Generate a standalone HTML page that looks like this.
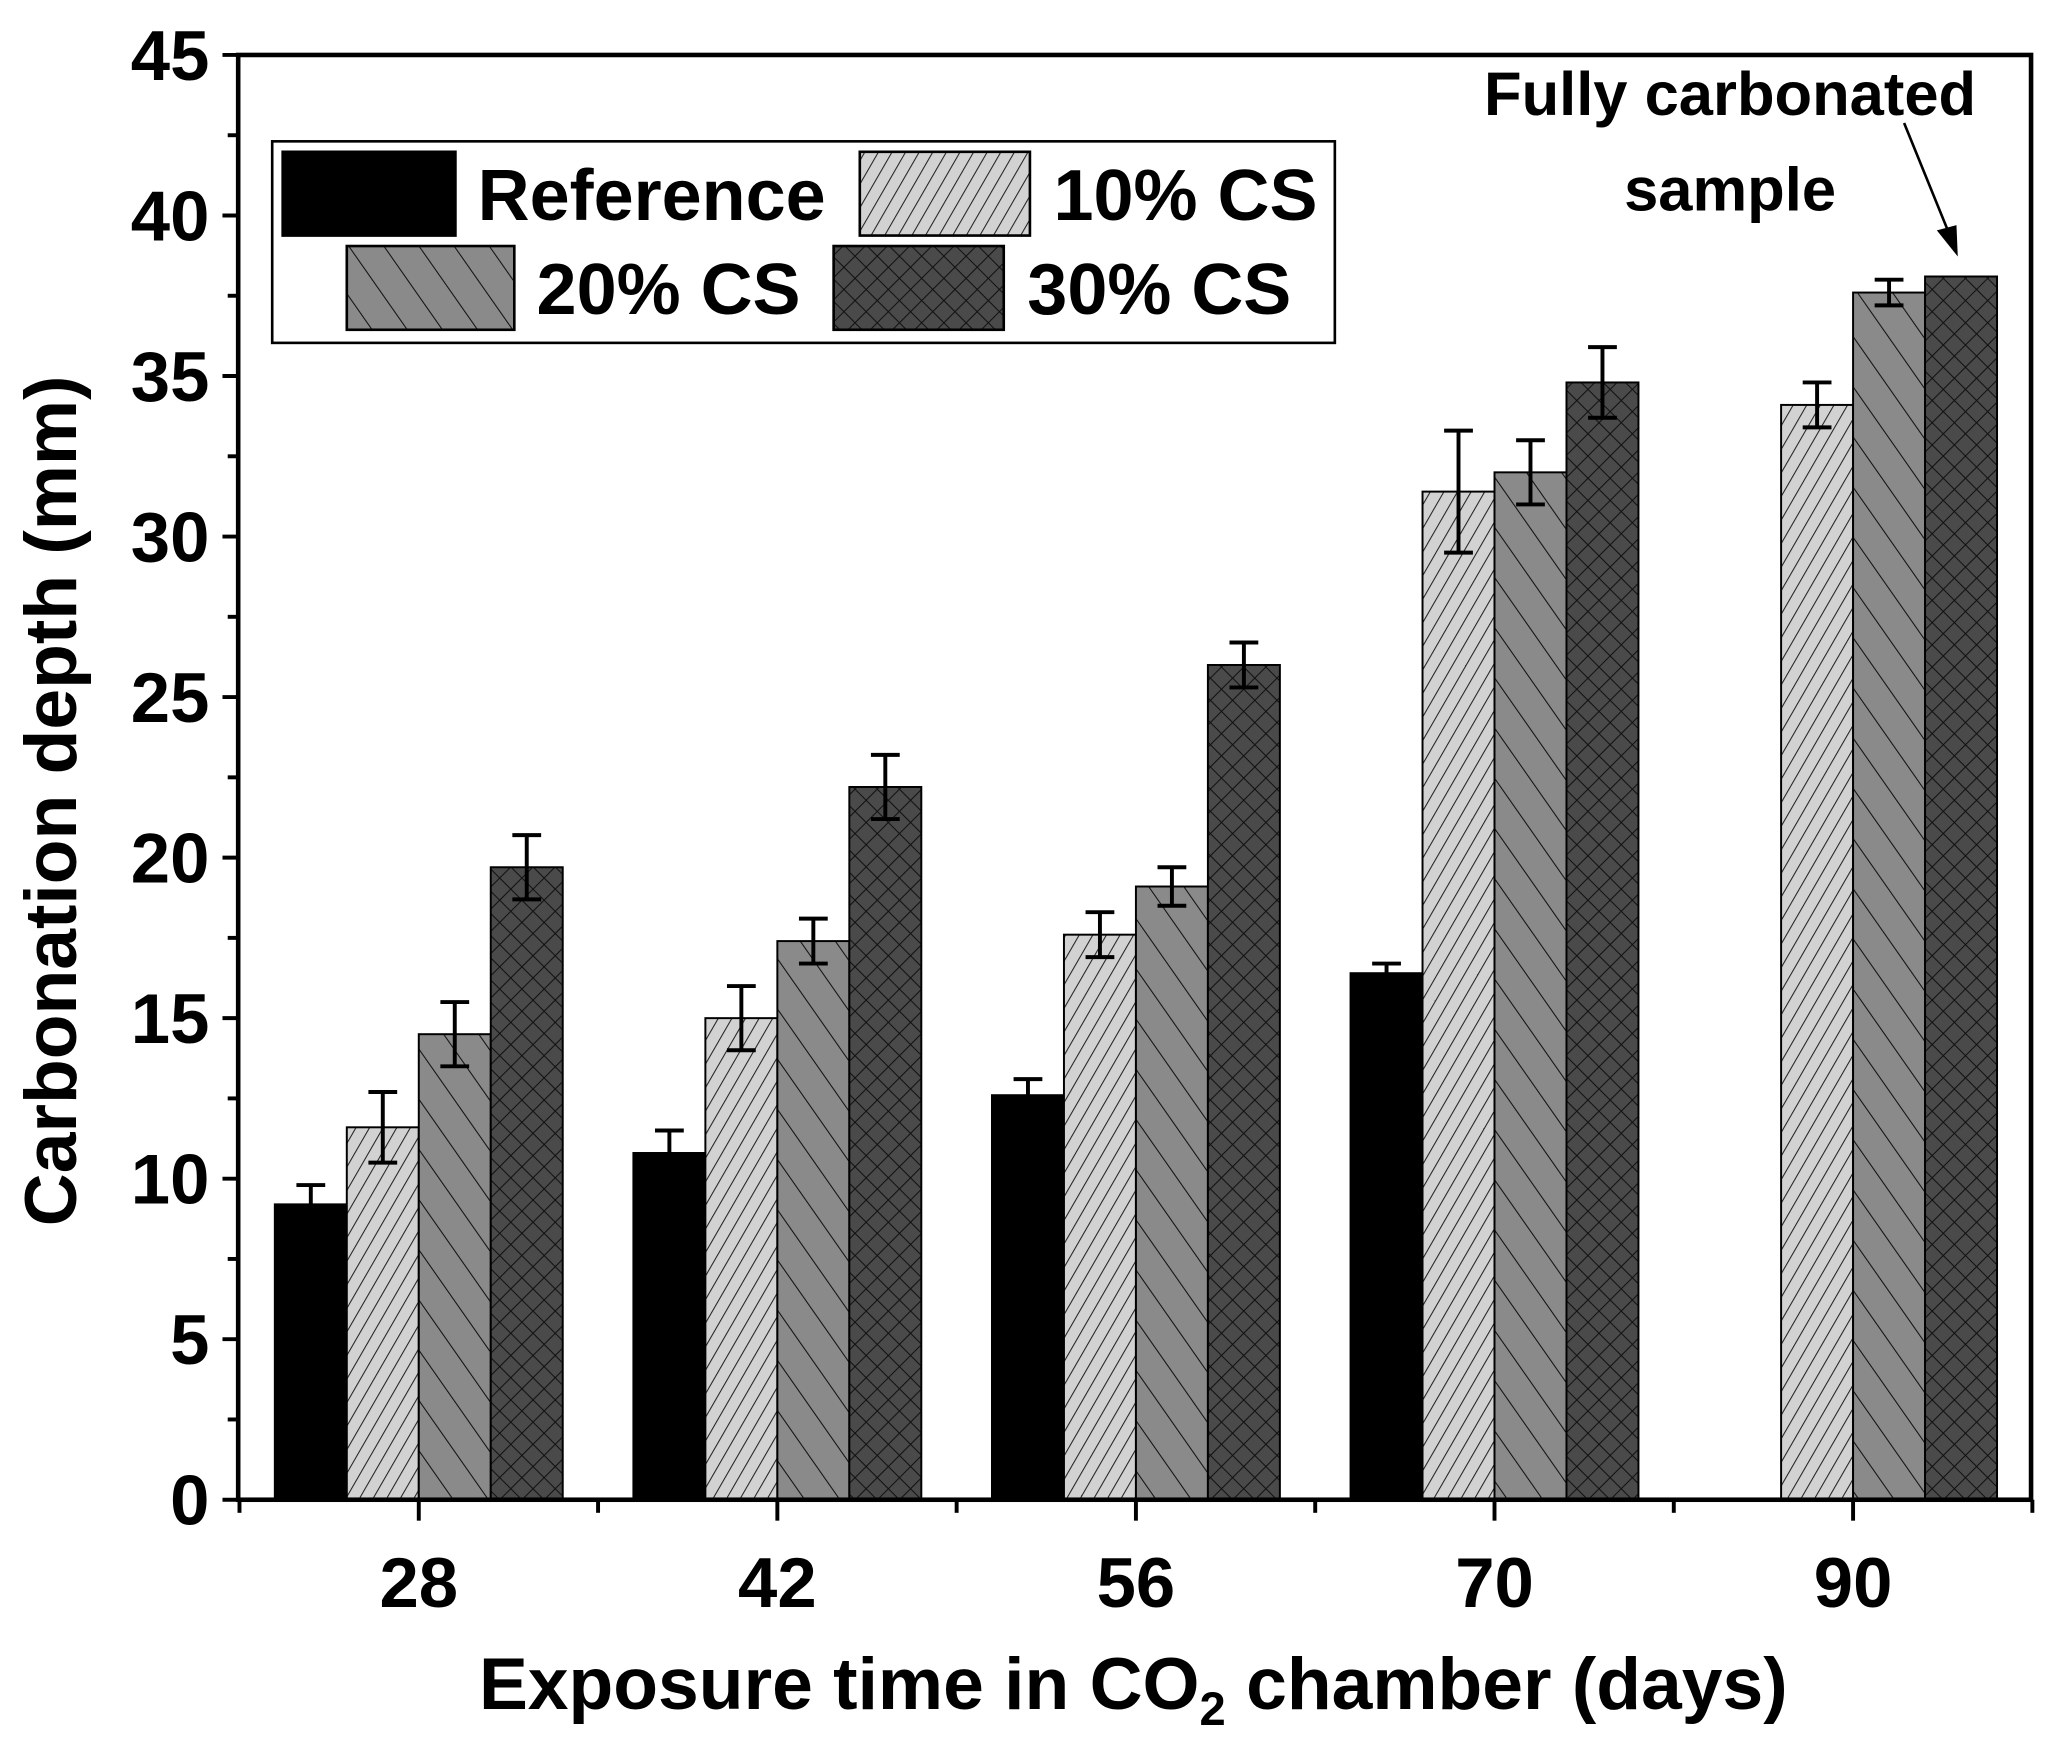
<!DOCTYPE html>
<html><head><meta charset="utf-8"><style>
html,body{margin:0;padding:0;background:#fff;}
svg{display:block;}
text{font-family:"Liberation Sans",Arial,sans-serif;font-weight:bold;fill:#000;}
</style></head><body>
<svg id="chart" width="2052" height="1751" viewBox="0 0 1568 1338" xmlns="http://www.w3.org/2000/svg">
<defs>
<pattern id="p10" patternUnits="userSpaceOnUse" width="9" height="9" patternTransform="rotate(30)">
<rect width="9" height="9" fill="#d2d2d2"/><line x1="0" y1="0" x2="0" y2="9" stroke="#222" stroke-width="1.6"/></pattern>
<pattern id="p20" patternUnits="userSpaceOnUse" width="22" height="22" patternTransform="rotate(-35)">
<rect width="22" height="22" fill="#8a8a8a"/><line x1="0" y1="0" x2="0" y2="22" stroke="#111" stroke-width="1.6"/></pattern>
<pattern id="p30" patternUnits="userSpaceOnUse" width="12" height="12" patternTransform="rotate(45)">
<rect width="12" height="12" fill="#4a4a4a"/><line x1="0" y1="0" x2="0" y2="12" stroke="#111" stroke-width="1.6"/><line x1="0" y1="0" x2="12" y2="0" stroke="#111" stroke-width="1.6"/></pattern>
</defs>
<g id="bars"></g>
<g id="axes"></g>
</svg>
<script>
const categories = ["28","42","56","70","90"];
const seriesNames = ["Reference","10% CS","20% CS","30% CS"];
const refVals = [9.2,10.8,12.6,16.4,null];
const cs10Vals = [11.6,15.0,17.6,31.4,34.1];
const cs20Vals = [14.5,17.4,19.1,32.0,37.6];
const cs30Vals = [19.7,22.2,26.0,34.8,38.1];
const refErr = [0.6,0.7,0.5,0.3,0];
const cs10Err = [1.1,1.0,0.7,1.9,0.7];
const cs20Err = [1.0,0.7,0.6,1.0,0.4];
const cs30Err = [1.0,1.0,0.7,1.1,0];
const yTicks = [0,5,10,15,20,25,30,35,40,45];

const NS="http://www.w3.org/2000/svg";
const L=182,R=1552,T=42,B=1146,yMax=45;
const y=v=>B-(v/yMax)*(B-T);
const x0=320,dx=274;
const xc=i=>x0+i*dx;
const bw=55;
const fills=["#000","url(#p10)","url(#p20)","url(#p30)"];
const vals=[refVals,cs10Vals,cs20Vals,cs30Vals];
const errs=[refErr,cs10Err,cs20Err,cs30Err];
const slug=["reference","cs10","cs20","cs30"];
function mk(tag,attrs,parent){const e=document.createElementNS(NS,tag);for(const k in attrs)e.setAttribute(k,attrs[k]);parent.appendChild(e);return e;}
const gb=document.getElementById('bars'),ga=document.getElementById('axes');
categories.forEach((c,i)=>{
  for(let s=0;s<4;s++){
    const v=vals[s][i]; if(v==null) continue;
    const bx=xc(i)-2*bw+s*bw;
    const r=mk('rect',{x:bx,y:y(v),width:bw,height:B-y(v),fill:fills[s],stroke:'#000','stroke-width':1.5},gb);
    
    
    const e=errs[s][i];
    if(e>0){
      const cx=bx+bw/2;
      const eg=mk('g',{stroke:'#000','stroke-width':3},gb);
      
      
      mk('line',{x1:cx,x2:cx,y1:y(v+e),y2:y(v-e)},eg);
      mk('line',{x1:cx-11,x2:cx+11,y1:y(v+e),y2:y(v+e)},eg);
      mk('line',{x1:cx-11,x2:cx+11,y1:y(v-e),y2:y(v-e)},eg);
    }
  }
  const t=mk('text',{x:xc(i),y:1228,'font-size':54,'text-anchor':'middle'},ga);
  t.textContent=c;
  
  
  mk('line',{x1:xc(i),x2:xc(i),y1:B,y2:B+16,stroke:'#000','stroke-width':3},ga);
  mk('line',{x1:xc(i)-dx/2,x2:xc(i)-dx/2,y1:B,y2:B+10,stroke:'#000','stroke-width':3},ga);
});
mk('line',{x1:xc(4)+dx/2,x2:xc(4)+dx/2,y1:B,y2:B+10,stroke:'#000','stroke-width':3},ga);
yTicks.forEach(v=>{
  mk('line',{x1:L-12,x2:L,y1:y(v),y2:y(v),stroke:'#000','stroke-width':3},ga);
  if(v<45) mk('line',{x1:L-8,x2:L,y1:y(v+2.5),y2:y(v+2.5),stroke:'#000','stroke-width':3},ga);
  const t=mk('text',{x:L-22,y:y(v)+19,'font-size':54,'text-anchor':'end'},ga);
  t.textContent=v;
  
  
});
const frame=mk('rect',{x:L,y:T,width:R-L,height:B-T,fill:'none',stroke:'#000','stroke-width':3.5},ga);


</script>
<script>
(function(){
const NS="http://www.w3.org/2000/svg";
const svg=document.getElementById('chart');
function mk(tag,attrs,parent){const e=document.createElementNS(NS,tag);for(const k in attrs)e.setAttribute(k,attrs[k]);parent.appendChild(e);return e;}
const lg=mk('g',{},svg);


mk('rect',{x:208,y:108,width:812,height:154,fill:'#fff',stroke:'#000','stroke-width':2},lg);
const items=[
 {sx:216,sy:116,sw:132,fill:'#000',tx:365,ty:168,label:'Reference',n:'legend-entry-reference'},
 {sx:657,sy:116,sw:130,fill:'url(#p10)',tx:805,ty:168,label:'10% CS',n:'legend-entry-10cs'},
 {sx:265,sy:188,sw:128,fill:'url(#p20)',tx:410,ty:240,label:'20% CS',n:'legend-entry-20cs'},
 {sx:637,sy:188,sw:130,fill:'url(#p30)',tx:785,ty:240,label:'30% CS',n:'legend-entry-30cs'}];
items.forEach(it=>{
 const g=mk('g',{},lg);
 
 
 mk('rect',{x:it.sx,y:it.sy,width:it.sw,height:64,fill:it.fill,stroke:'#000','stroke-width':2},g);
 const t=mk('text',{x:it.tx,y:it.ty,'font-size':55},g);t.textContent=it.label;
});
const a1=mk('text',{x:1322,y:88,'font-size':47,'text-anchor':'middle'},svg);a1.textContent='Fully carbonated';


const a2=mk('text',{x:1322,y:161,'font-size':47,'text-anchor':'middle'},svg);a2.textContent='sample';


const ar=mk('g',{},svg);


mk('line',{x1:1455,y1:94,x2:1490,y2:180,stroke:'#000','stroke-width':2},ar);
mk('polygon',{points:'1496,196 1480,176 1495,172',fill:'#000'},ar);
const yt=mk('text',{x:0,y:0,'font-size':56,'text-anchor':'middle',transform:'translate(58,612) rotate(-90)'},svg);
yt.textContent='Carbonation depth (mm)';


const xt=mk('text',{x:866,y:1306,'font-size':56,'text-anchor':'middle'},svg);
xt.innerHTML='Exposure time in CO<tspan font-size="36" dy="12">2</tspan><tspan dy="-12"> chamber (days)</tspan>';


})();
</script>
</body></html>
